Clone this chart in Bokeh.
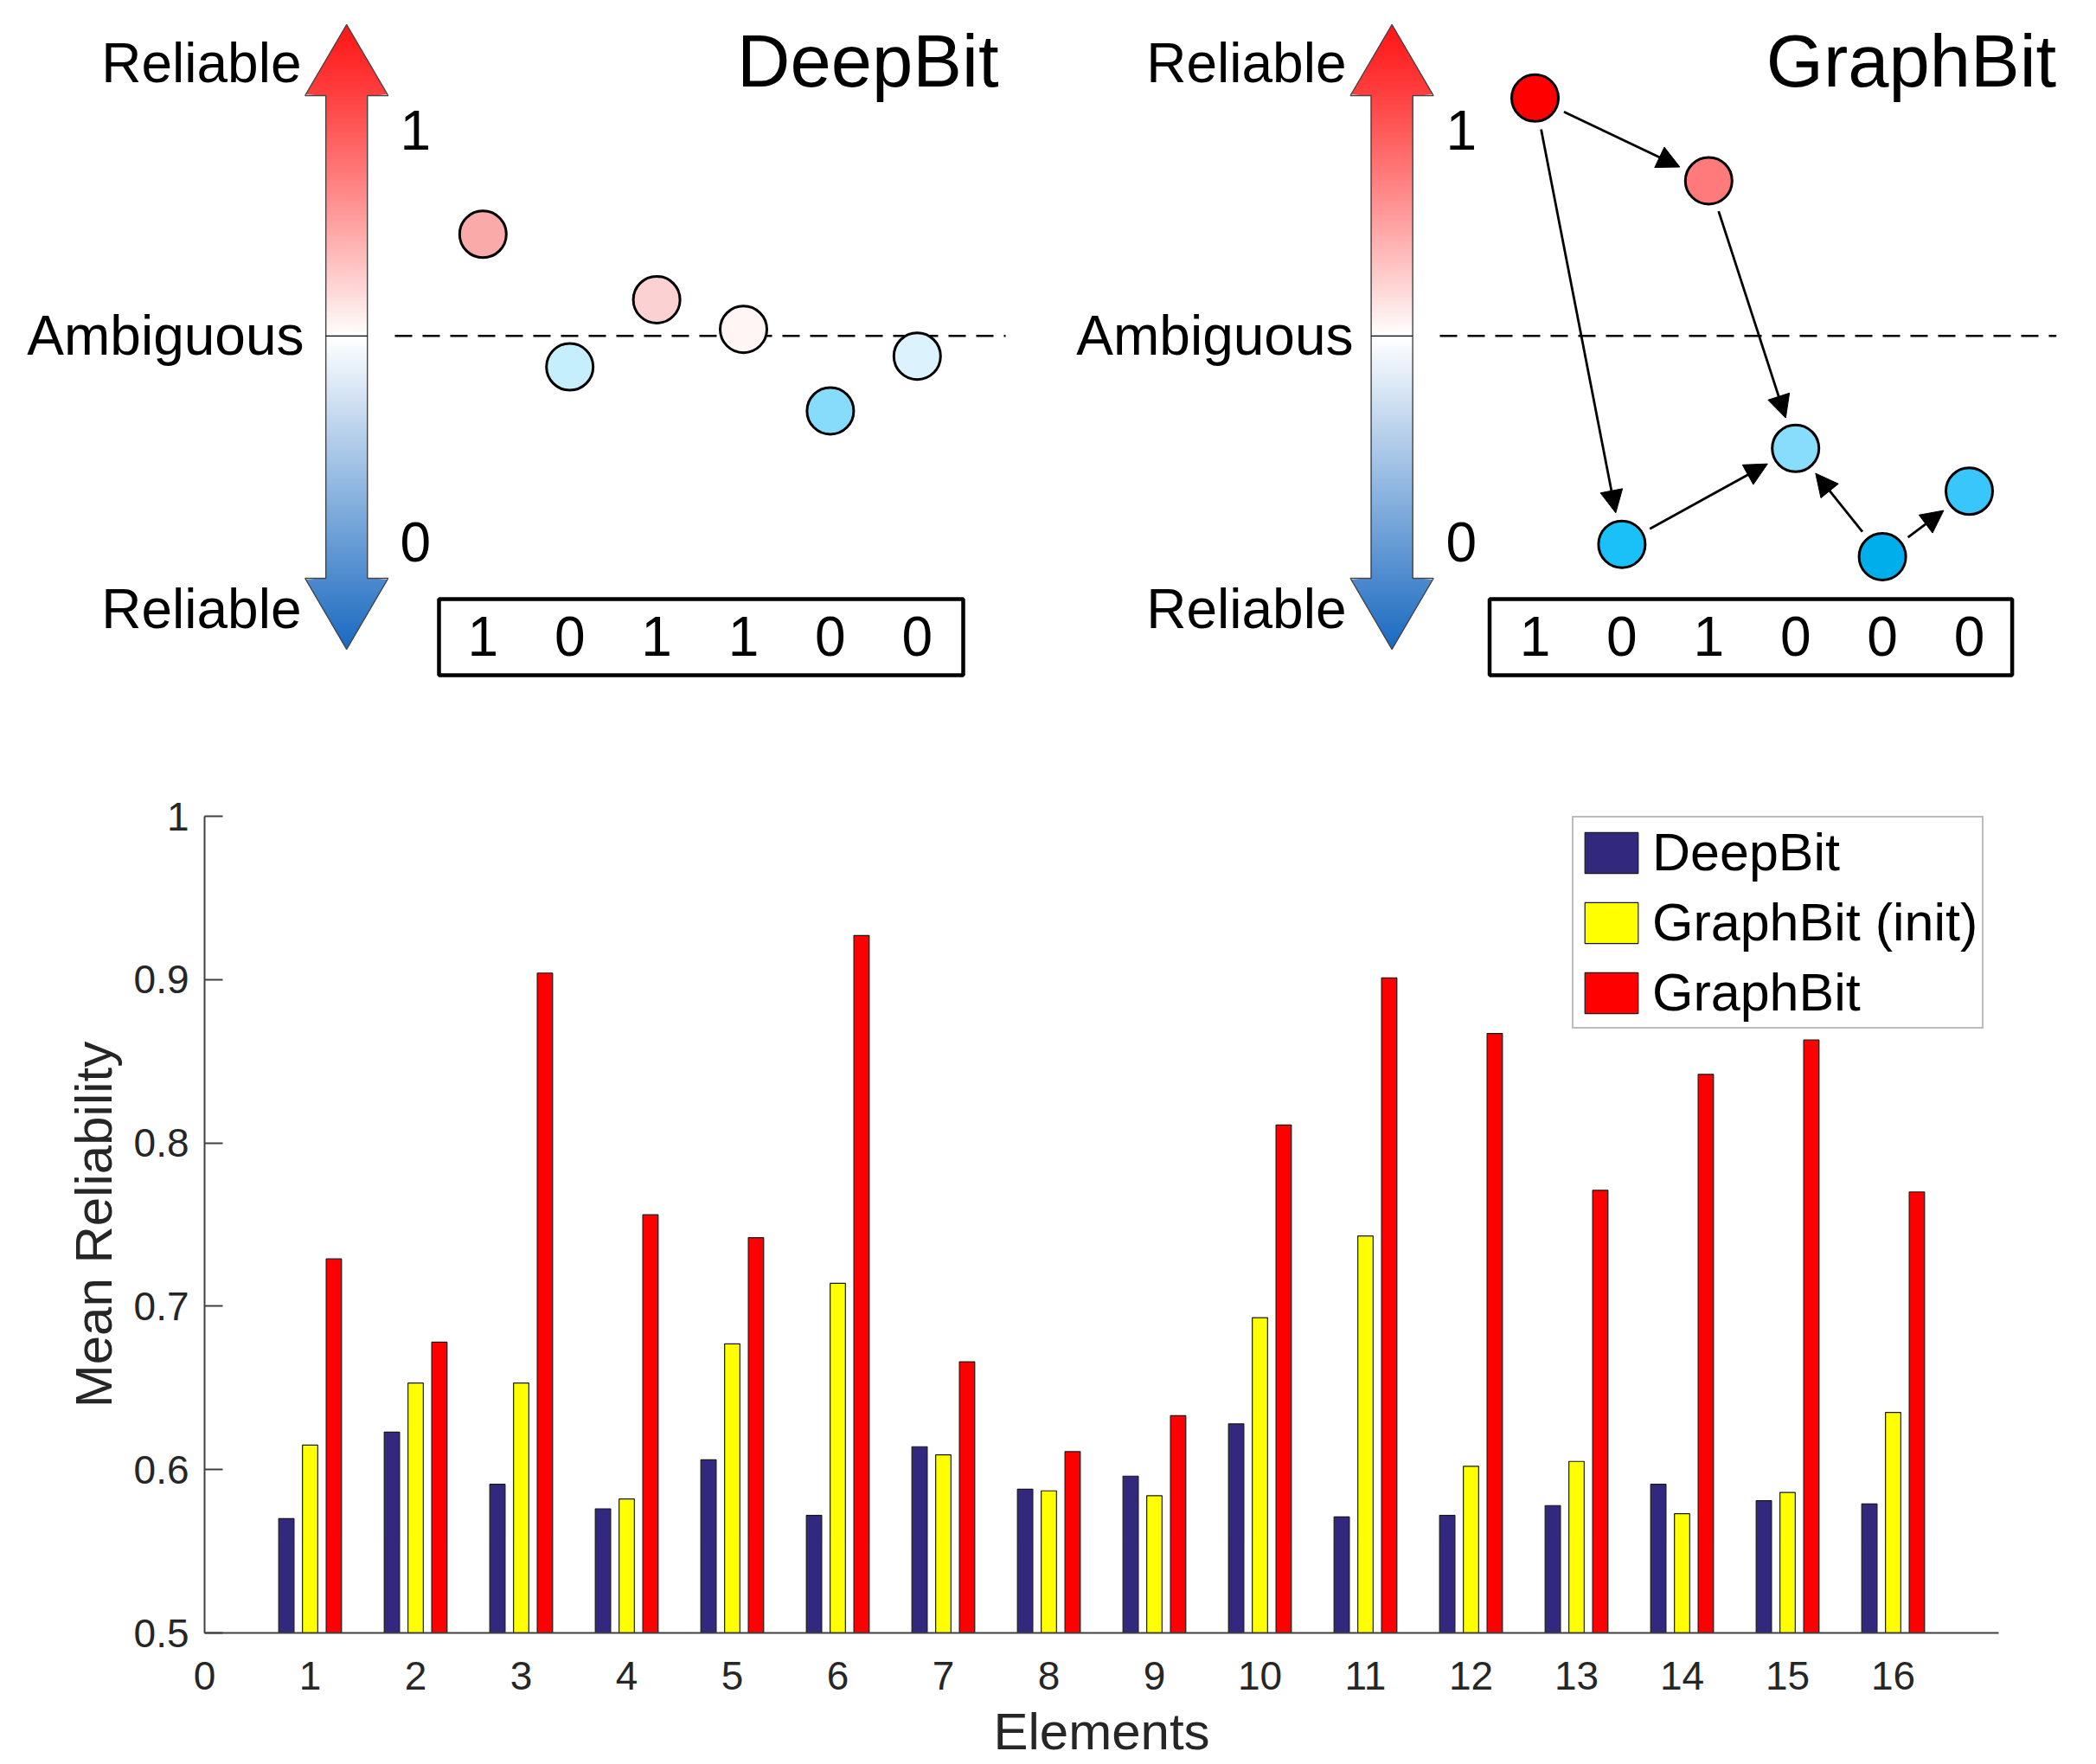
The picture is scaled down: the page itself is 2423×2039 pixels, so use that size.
import numpy as np
from bokeh.plotting import figure
from bokeh.layouts import column, row
from bokeh.models import (Range1d, ColumnDataSource, FixedTicker, Arrow, NormalHead,
                          Legend, LegendItem)
from bokeh.transform import dodge
from bokeh.core.properties import value
from bokeh.embed import file_html
from bokeh.resources import INLINE

# ---------------- data ----------------
elements = list(range(1, 17))
deepbit = [0.570, 0.623, 0.591, 0.576, 0.606, 0.572, 0.614, 0.588,
           0.596, 0.628, 0.571, 0.572, 0.578, 0.591, 0.581, 0.579]
graphbit_init = [0.615, 0.653, 0.653, 0.582, 0.677, 0.714, 0.609, 0.587,
                 0.584, 0.693, 0.743, 0.602, 0.605, 0.573, 0.586, 0.635]
graphbit = [0.729, 0.678, 0.904, 0.756, 0.742, 0.927, 0.666, 0.611,
            0.633, 0.811, 0.901, 0.867, 0.771, 0.842, 0.863, 0.770]
series_names = ["DeepBit", "GraphBit (init)", "GraphBit"]
x_ticks = list(range(0, 17))
y_ticks = [0.5, 0.6, 0.7, 0.8, 0.9, 1.0]
y_tick_labels = ["0.5", "0.6", "0.7", "0.8", "0.9", "1"]

# schematic panels: reliability of six hash bits
deepbit_rel = [0.747, 0.425, 0.588, 0.516, 0.318, 0.451]
graphbit_rel = [1.078, -0.006, 0.877, 0.227, -0.036, 0.123]
deepbit_bits = [1, 0, 1, 1, 0, 0]
graphbit_bits = [1, 0, 1, 0, 0, 0]
graphbit_edges = [(0, 2), (0, 1), (2, 3), (1, 3), (4, 3), (4, 5)]

# styles
deepbit_node_colors = ["#fbaaaa", "#c6effd", "#fcd1d1", "#fff5f5", "#87dbfb", "#dcf3fd"]
graphbit_node_colors = ["#ff0000", "#1ac0f8", "#ff7b7b", "#88dcfc", "#00aeec", "#38c6fb"]
bar_colors = ["#32297f", "#ffff00", "#ff0000"]

FONT = "Liberation Sans"


def diagram(title, rel, bits, colors, edges, W, c0, cx, box_l, box_r,
            title_r, rel_r, amb_r, num_l, dash_l, dash_r):
    H = 808
    S = 100.4   # px per element
    K = 475.9   # px per unit reliability
    A = 625.8   # px from top where reliability == 0
    xa = -c0 / S
    xb = (W - c0) / S
    p = figure(width=W, height=H, x_range=Range1d(xa, xb),
               y_range=Range1d((A - H) / K, A / K),
               output_backend="svg", toolbar_location=None, min_border=0)
    p.axis.visible = False
    p.grid.visible = False
    p.outline_line_color = None
    p.background_fill_color = "white"

    X = lambda px: xa + px / S
    Y = lambda py: (A - py) / K

    # gradient double arrow
    top_c = np.array([255, 22, 22])
    mid_c = np.array([255, 255, 255])
    bot_c = np.array([25, 105, 192])
    y_tip, y_hb, y_bb, y_bt = 28.0, 110.0, 668.0, 750.0

    def hw(py):
        if py < y_hb:
            return 48.0 * (py - y_tip) / (y_hb - y_tip)
        if py > y_bb:
            return 48.0 * (y_bt - py) / (y_bt - y_bb)
        return 24.0

    xs, ys, cols = [], [], []
    step = 2.0
    py = y_tip
    while py < y_bt - 1e-6:
        py2 = min(py + step, y_bt)
        t = ((py + py2) / 2 - y_tip) / (y_bt - y_tip)
        if t < 0.5:
            c = top_c + (mid_c - top_c) * (t / 0.5) ** 1.15
        else:
            c = mid_c + (bot_c - mid_c) * ((t - 0.5) / 0.5)
        c = "#%02x%02x%02x" % tuple(int(round(v)) for v in c)
        w1, w2 = hw(py), hw(py2)
        if py < y_hb < py2 or py < y_bb < py2:
            w1 = w2 = max(w1, w2)
        xs.append([X(cx - w1), X(cx + w1), X(cx + w2), X(cx - w2)])
        ys.append([Y(py), Y(py), Y(py2), Y(py2)])
        cols.append(c)
        py = py2
    p.patches(xs, ys, fill_color=cols, line_color=cols, line_width=1)
    ox = [cx, cx + 48, cx + 24, cx + 24, cx + 48, cx, cx - 48, cx - 24, cx - 24, cx - 48, cx]
    oy = [y_tip, y_hb, y_hb, y_bb, y_bb, y_bt, y_bb, y_bb, y_hb, y_hb, y_tip]
    p.line([X(v) for v in ox], [Y(v) for v in oy], line_color="#454545", line_width=1.4)
    p.segment(x0=[X(cx - 24)], x1=[X(cx + 24)], y0=[0.5], y1=[0.5], line_color="black", line_width=1.2)

    # labels next to the arrow
    txt = dict(text_font=value(FONT), text_font_size="64px", text_color="black",
               text_baseline="middle")
    p.text(x=[X(rel_r)], y=[Y(72)], text=["Reliable"], text_align="right", **txt)
    p.text(x=[X(rel_r)], y=[Y(703)], text=["Reliable"], text_align="right", **txt)
    p.text(x=[X(amb_r)], y=[0.5], text=["Ambiguous"], text_align="right", **txt)
    p.text(x=[X(num_l)] * 2, y=[1.0, 0.0], text=["1", "0"], text_align="left", **txt)
    p.text(x=[X(title_r)], y=[Y(70)], text=[title], text_align="right",
           text_font=value(FONT), text_font_size="85px", text_color="black",
           text_baseline="middle")

    # ambiguous threshold line
    p.line([X(dash_l), X(dash_r)], [0.5, 0.5], line_color="black", line_width=2.5,
           line_dash="20 12")

    idx = list(range(len(rel)))
    # edges (propagation arrows)
    if edges:
        r = 27.0
        gap = 10.0
        e = dict(x0=[], y0=[], x1=[], y1=[])
        for a, b in edges:
            ax, ay = c0 + S * a, A - K * rel[a]
            bx, by = c0 + S * b, A - K * rel[b]
            d = np.array([bx - ax, by - ay])
            d = d / np.linalg.norm(d)
            sx, sy = ax + d[0] * (r + gap), ay + d[1] * (r + gap)
            tx, ty = bx - d[0] * (r + gap), by - d[1] * (r + gap)
            e["x0"].append(X(sx)); e["y0"].append(Y(sy))
            e["x1"].append(X(tx)); e["y1"].append(Y(ty))
        src = ColumnDataSource(e)
        p.add_layout(Arrow(end=NormalHead(size=26, fill_color="black", line_color="black", line_width=1),
                           x_start="x0", y_start="y0", x_end="x1", y_end="y1",
                           line_width=2.8, line_color="black", source=src))

    p.scatter(x=idx, y=rel, size=54, fill_color=colors, line_color="black", line_width=3)

    # bit code box
    p.quad(left=[X(box_l)], right=[X(box_r)], top=[Y(692)], bottom=[Y(780)],
           fill_color=None, line_color="black", line_width=4.5)
    p.text(x=idx, y=[Y(735)] * len(idx), text=[str(b) for b in bits], text_align="center",
           **txt)
    return p


left = diagram("DeepBit", deepbit_rel, deepbit_bits, deepbit_node_colors, None,
               W=1218, c0=557.8, cx=400.2, box_l=507, box_r=1113, title_r=1154,
               rel_r=348, amb_r=351, num_l=462, dash_l=456, dash_r=1162)
right = diagram("GraphBit", graphbit_rel, graphbit_bits, graphbit_node_colors, graphbit_edges,
                W=1205, c0=556, cx=390.6, box_l=503.5, box_r=1107.6, title_r=1158.7,
                rel_r=338, amb_r=346, num_l=453, dash_l=446, dash_r=1158.7)

# ---------------- bar chart ----------------
src = ColumnDataSource(dict(elements=elements, deepbit=deepbit,
                            graphbit_init=graphbit_init, graphbit=graphbit))
b = figure(width=2423, height=1231, x_range=Range1d(0, 17), y_range=Range1d(0.5, 1.0),
           output_backend="svg", toolbar_location=None,
           min_border_left=236, min_border_right=113, min_border_top=135, min_border_bottom=152)
b.grid.visible = False
b.outline_line_color = None

renderers = []
for col, off, colr in zip(["deepbit", "graphbit_init", "graphbit"], [-0.225, 0.0, 0.225], bar_colors):
    rr = b.vbar(x=dodge("elements", off, range=b.x_range), top=col, bottom=0.5, width=0.145,
                fill_color=colr, line_color="#1a1a1a", line_width=1.2, source=src)
    renderers.append(rr)

b.xaxis.ticker = FixedTicker(ticks=x_ticks)
b.yaxis.ticker = FixedTicker(ticks=y_ticks)
b.yaxis.major_label_overrides = {t: l for t, l in zip(y_ticks, y_tick_labels)}
for ax in (b.xaxis[0], b.yaxis[0]):
    ax.axis_line_color = "#404040"
    ax.axis_line_width = 2
    ax.major_tick_line_color = "#404040"
    ax.major_tick_line_width = 2
    ax.minor_tick_line_color = None
    ax.major_tick_out = 0
    ax.major_label_text_font = FONT
    ax.major_label_text_font_size = "46px"
    ax.major_label_text_color = "#262626"
    ax.axis_label_text_font = FONT
    ax.axis_label_text_font_size = "60px"
    ax.axis_label_text_color = "#262626"
    ax.axis_label_text_font_style = "normal"
b.yaxis.major_tick_in = 21
b.xaxis.major_tick_in = 0
b.yaxis.major_label_standoff = 18
b.yaxis.axis_label_standoff = 10
b.xaxis.major_label_standoff = 33
b.xaxis.axis_label_standoff = 12
b.xaxis.axis_label = "Elements"
b.yaxis.axis_label = "Mean Reliability"

legend = Legend(items=[LegendItem(label=n, renderers=[r]) for n, r in zip(series_names, renderers)],
                location=(1581, 698), label_text_font=FONT, label_text_font_size="61px",
                label_text_color="black", glyph_width=77, glyph_height=59, label_height=59,
                spacing=11, padding=5, margin=0, label_standoff=9,
                border_line_color="#7a7a7a", border_line_width=2, background_fill_alpha=1)
b.add_layout(legend)

layout = column(row(left, right, spacing=0), b, spacing=0)
open("out.html", "w").write(file_html(layout, INLINE))
